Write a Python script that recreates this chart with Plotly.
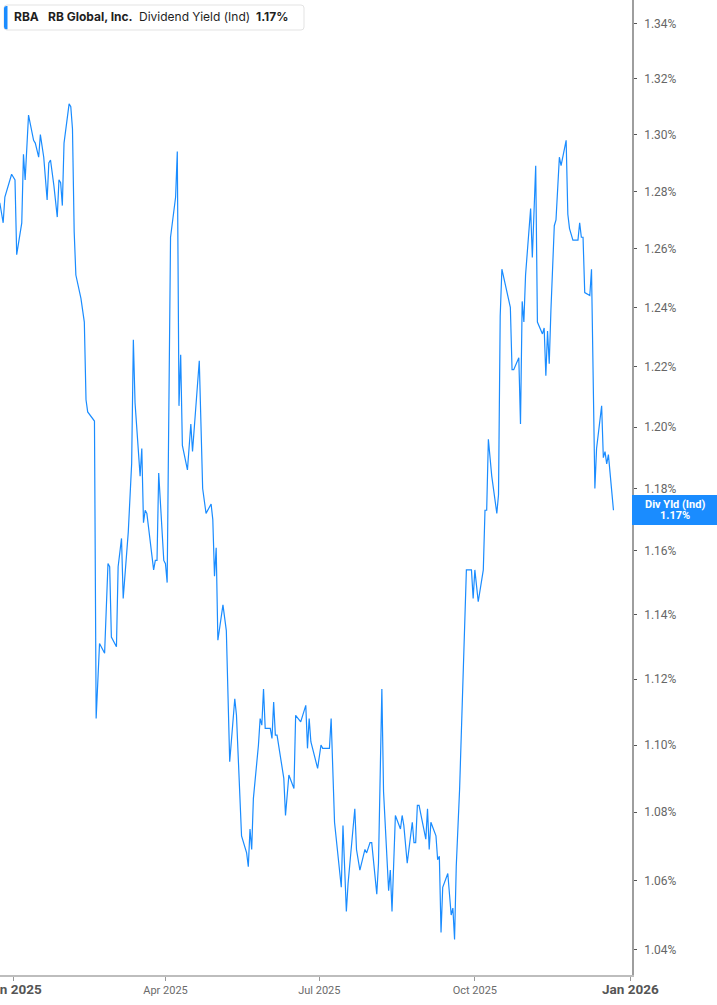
import math
import plotly.graph_objects as go

# RBA - RB Global, Inc. - dividend yield (Ind), in %
dates = [
    "2024-12-24", "2024-12-26", "2024-12-27", "2024-12-31",
    "2025-01-02", "2025-01-03", "2025-01-06", "2025-01-07", "2025-01-08", "2025-01-10",
    "2025-01-13", "2025-01-14", "2025-01-16", "2025-01-17", "2025-01-19", "2025-01-21",
    "2025-01-22", "2025-01-23", "2025-01-25", "2025-01-27", "2025-01-28", "2025-01-29",
    "2025-01-30", "2025-01-31",
    "2025-02-03", "2025-02-04", "2025-02-05", "2025-02-06", "2025-02-07", "2025-02-10",
    "2025-02-12", "2025-02-13", "2025-02-14", "2025-02-18", "2025-02-19", "2025-02-21",
    "2025-02-24", "2025-02-26", "2025-02-27", "2025-02-28",
    "2025-03-03", "2025-03-04", "2025-03-06", "2025-03-07", "2025-03-10", "2025-03-12",
    "2025-03-13", "2025-03-14", "2025-03-17", "2025-03-18", "2025-03-19", "2025-03-20",
    "2025-03-21", "2025-03-25", "2025-03-26", "2025-03-27", "2025-03-28", "2025-03-30",
    "2025-03-31",
    "2025-04-01", "2025-04-02", "2025-04-04", "2025-04-07", "2025-04-08", "2025-04-09",
    "2025-04-10", "2025-04-11", "2025-04-14", "2025-04-16", "2025-04-17", "2025-04-21",
    "2025-04-23", "2025-04-25", "2025-04-28", "2025-04-29", "2025-04-30",
    "2025-05-01", "2025-05-02", "2025-05-05", "2025-05-07", "2025-05-08", "2025-05-09",
    "2025-05-12", "2025-05-13", "2025-05-16", "2025-05-19", "2025-05-20", "2025-05-21",
    "2025-05-22", "2025-05-23", "2025-05-26", "2025-05-27", "2025-05-28", "2025-05-29",
    "2025-05-30",
    "2025-06-02", "2025-06-03", "2025-06-04", "2025-06-05", "2025-06-06", "2025-06-10",
    "2025-06-11", "2025-06-13", "2025-06-16", "2025-06-17", "2025-06-20", "2025-06-23",
    "2025-06-24", "2025-06-25", "2025-06-26", "2025-06-30",
    "2025-07-02", "2025-07-03", "2025-07-07", "2025-07-08", "2025-07-10", "2025-07-14",
    "2025-07-15", "2025-07-17", "2025-07-18", "2025-07-22", "2025-07-23", "2025-07-25",
    "2025-07-28", "2025-07-29", "2025-07-31",
    "2025-08-01", "2025-08-04", "2025-08-05", "2025-08-07", "2025-08-08", "2025-08-11",
    "2025-08-12", "2025-08-13", "2025-08-15", "2025-08-18", "2025-08-19", "2025-08-20",
    "2025-08-22", "2025-08-25", "2025-08-26", "2025-08-27", "2025-08-28", "2025-08-29",
    "2025-09-02", "2025-09-03", "2025-09-04", "2025-09-05", "2025-09-08", "2025-09-09",
    "2025-09-10", "2025-09-11", "2025-09-12", "2025-09-15", "2025-09-17", "2025-09-18",
    "2025-09-19", "2025-09-20", "2025-09-22", "2025-09-24", "2025-09-26", "2025-09-29",
    "2025-09-30",
    "2025-10-01", "2025-10-03", "2025-10-06", "2025-10-07", "2025-10-08", "2025-10-09",
    "2025-10-11", "2025-10-14", "2025-10-15", "2025-10-16", "2025-10-17", "2025-10-20",
    "2025-10-22", "2025-10-23", "2025-10-24", "2025-10-27", "2025-10-28", "2025-10-29",
    "2025-10-30", "2025-10-31",
    "2025-11-03", "2025-11-04", "2025-11-06", "2025-11-07", "2025-11-10", "2025-11-11",
    "2025-11-12", "2025-11-13", "2025-11-14", "2025-11-15", "2025-11-17", "2025-11-18",
    "2025-11-20", "2025-11-21", "2025-11-24", "2025-11-25", "2025-11-26", "2025-11-28",
    "2025-12-01", "2025-12-02", "2025-12-03", "2025-12-04", "2025-12-05", "2025-12-08",
    "2025-12-09", "2025-12-11", "2025-12-12", "2025-12-15", "2025-12-16", "2025-12-17",
    "2025-12-18", "2025-12-19", "2025-12-22",
]

yld = [
    1.276, 1.269, 1.278, 1.286,
    1.284, 1.258, 1.269, 1.293, 1.284, 1.307,
    1.298, 1.297, 1.292, 1.300, 1.292, 1.277,
    1.290, 1.291, 1.282, 1.271, 1.284, 1.283,
    1.275, 1.297,
    1.311, 1.310, 1.302, 1.266, 1.251, 1.243,
    1.235, 1.209, 1.205, 1.202, 1.108, 1.131,
    1.128, 1.156, 1.155, 1.133,
    1.130, 1.155, 1.164, 1.145, 1.166, 1.188,
    1.229, 1.208, 1.184, 1.193, 1.169, 1.173,
    1.172, 1.154, 1.157, 1.157, 1.185, 1.168,
    1.157,
    1.156, 1.150, 1.264, 1.278, 1.294, 1.207,
    1.224, 1.194, 1.186, 1.201, 1.192, 1.222,
    1.180, 1.172, 1.175, 1.170, 1.152,
    1.161, 1.132, 1.143, 1.135, 1.110, 1.095,
    1.114, 1.109, 1.073, 1.068, 1.064, 1.075,
    1.069, 1.084, 1.100, 1.108, 1.106, 1.117,
    1.105,
    1.105, 1.102, 1.113, 1.103, 1.103, 1.090,
    1.079, 1.091, 1.087, 1.109, 1.107, 1.112,
    1.099, 1.108, 1.101, 1.093,
    1.100, 1.099, 1.099, 1.108, 1.077, 1.058,
    1.076, 1.051, 1.059, 1.081, 1.069, 1.063,
    1.069, 1.068, 1.071,
    1.071, 1.056, 1.065, 1.117, 1.086, 1.057,
    1.063, 1.051, 1.079, 1.075, 1.079, 1.076,
    1.065, 1.077, 1.071, 1.071, 1.082, 1.082,
    1.072, 1.081, 1.069, 1.077, 1.073, 1.066,
    1.067, 1.045, 1.058, 1.062, 1.050, 1.052,
    1.043, 1.064, 1.087, 1.120, 1.154, 1.154,
    1.145,
    1.154, 1.144, 1.154, 1.173, 1.173, 1.196,
    1.184, 1.172, 1.178, 1.237, 1.253, 1.245,
    1.240, 1.219, 1.219, 1.223, 1.201, 1.242,
    1.235, 1.251,
    1.274, 1.257, 1.289, 1.235, 1.231, 1.233,
    1.217, 1.232, 1.221, 1.239, 1.268, 1.270,
    1.292, 1.289, 1.298, 1.272, 1.267, 1.263,
    1.263, 1.269, 1.264, 1.264, 1.245, 1.244,
    1.253, 1.180, 1.193, 1.207, 1.190, 1.192,
    1.188, 1.191, 1.173,
]

x_ticks = ["2025-01-01", "2025-04-01", "2025-07-01", "2025-10-01", "2026-01-01"]
x_labels = ["Jan 2025", "Apr 2025", "Jul 2025", "Oct 2025", "Jan 2026"]
y_ticks = [1.04, 1.06, 1.08, 1.10, 1.12, 1.14, 1.16, 1.18, 1.20,
           1.22, 1.24, 1.26, 1.28, 1.30, 1.32, 1.34]

BLUE = "#1a8cff"
last = yld[-1]

# year starts get a bigger bold label
x_text = []
for t in x_labels:
    if t.startswith("Jan"):
        x_text.append("<b><span style='font-size:13.5px;color:#555'>%s</span></b>" % t)
    else:
        x_text.append(t)

fig = go.Figure()
fig.add_trace(go.Scatter(x=dates, y=yld, mode="lines",
                         line=dict(color=BLUE, width=1.2), hoverinfo="skip"))

# legend box, top left
fig.add_shape(type="path", xref="paper", yref="paper", xsizemode="pixel", ysizemode="pixel",
              xanchor=0, yanchor=1,
              path="M 7 -5 L 301 -5 Q 304 -5 304 -8 L 304 -27 Q 304 -30 301 -30 "
                   "L 7 -30 Q 4 -30 4 -27 L 4 -8 Q 4 -5 7 -5 Z",
              line=dict(color="#e3e3e3", width=1), fillcolor="white", layer="above")
fig.add_shape(type="path", xref="paper", yref="paper", xsizemode="pixel", ysizemode="pixel",
              xanchor=0, yanchor=1,
              path="M 4 -8.5 Q 4 -6 6.5 -6 L 7.5 -6 L 7.5 -29.3 L 6.5 -29.3 Q 4 -29.3 4 -27 Z",
              line=dict(width=0), fillcolor=BLUE, layer="above")

legend_bits = [("<b>RBA</b>", 13), ("<b>RB Global, Inc.</b>", 47),
               ("Dividend Yield (Ind)", 137.5), ("<b>%.2f%%</b>" % last, 255)]
for txt, dx in legend_bits:
    fig.add_annotation(text=txt, xref="paper", yref="paper", x=0, y=1,
                       xanchor="left", yanchor="middle", xshift=dx - 1, yshift=-16.7,
                       showarrow=False, font=dict(family="Inter", size=12, color="#1f1f1f"))

# last value badge on the right axis
fig.add_annotation(text="&nbsp;", xref="paper", yref="y", x=1, y=math.log10(last),
                   xanchor="left", yanchor="middle", width=85, height=30,
                   borderpad=0, borderwidth=0, bgcolor=BLUE, showarrow=False)
fig.add_annotation(text="<b>Div Yld (Ind)</b>", xref="paper", yref="y", x=1, y=math.log10(last),
                   xanchor="center", yanchor="middle", xshift=42.5, yshift=5.7,
                   showarrow=False, font=dict(family="Roboto", size=11, color="white"))
fig.add_annotation(text="<b>%.2f%%</b>" % last, xref="paper", yref="y", x=1, y=math.log10(last),
                   xanchor="center", yanchor="middle", xshift=42.5, yshift=-5.7,
                   showarrow=False, font=dict(family="Roboto", size=11, color="white"))

fig.update_layout(
    width=717, height=1005,
    margin=dict(l=0, r=85, t=0, b=30),
    paper_bgcolor="white", plot_bgcolor="white",
    showlegend=False,
    xaxis=dict(type="date", range=["2024-12-24 03:00", "2026-01-01 23:00"],
               tickvals=x_ticks, ticktext=x_text, automargin=False,
               showgrid=False, zeroline=False,
               showline=True, linecolor="#bdbdbd", linewidth=2,
               ticks="outside", ticklen=4, tickcolor="#999",
               tickfont=dict(family="Roboto", size=11, color="#6b6b6b"),
               ticklabeloverflow="allow"),
    yaxis=dict(type="log", side="right", automargin=False,
               range=[math.log10(1.0329), math.log10(1.3488)],
               tickvals=y_ticks, ticktext=["%.2f%%" % v for v in y_ticks],
               showgrid=False, zeroline=False,
               showline=True, linecolor="#9e9e9e", linewidth=1.5,
               ticks="outside", ticklen=3, tickcolor="#555", ticklabelstandoff=5,
               tickfont=dict(family="Roboto", size=12, color="#666")),
)

# the page's default 8px body margin would push the chart off its spot
fig.write_html("out.html", config={"displayModeBar": False},
               post_script="document.body.style.margin = '0';")
